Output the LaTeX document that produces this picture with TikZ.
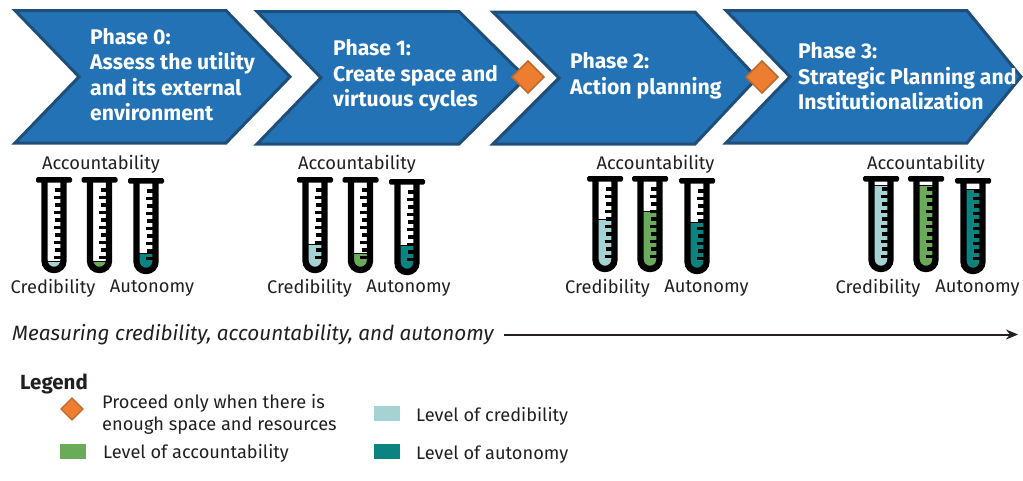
\documentclass[tikz,border=0pt]{standalone}
\usepackage{fontspec}
\setmainfont{Fira Sans}
\usetikzlibrary{arrows.meta}
\definecolor{phaseblue}{HTML}{2372B6}
\definecolor{phaseedge}{HTML}{1F4E79}
\definecolor{gateorange}{HTML}{ED7D31}
\definecolor{gateedge}{HTML}{C0692B}
\definecolor{credcolor}{HTML}{A5D3D3}
\definecolor{acctcolor}{HTML}{6AAB59}
\definecolor{autocolor}{HTML}{0B8380}
\definecolor{inkcolor}{HTML}{231F20}
\tikzset{
  phasetext/.style={anchor=west,align=left,text=white,inner sep=0pt,font=\fontsize{21.2}{25.5}\selectfont\bfseries},
  tubelabel/.style={inner sep=0pt,text=inkcolor,font=\fontsize{18.3}{21}\selectfont},
  legendtext/.style={anchor=west,align=left,inner sep=0pt,text=inkcolor,font=\fontsize{18.2}{22}\selectfont},
  gate/.style={draw=gateedge,fill=gateorange,line width=1.5pt,line join=miter},
  swatch/.style={minimum width=26pt,minimum height=15pt,inner sep=0pt,anchor=west}
}
% chevron: left x, right shoulder x, tip x, notch x, top y, bottom y
\newcommand{\chevron}[6]{
  \draw[line width=3pt,draw=phaseedge,fill=phaseblue,line join=miter]
    (#1,#5) -- (#2,#5) -- (#3,{(#5+#6)/2}) -- (#2,#6) -- (#1,#6) -- (#4,{(#5+#6)/2}) -- cycle;
}
% test tube: centre x, top y, level y, colour
\newcommand{\testtube}[4]{
  \fill[#4] ({#1-8},#3) [rounded corners=8pt] -- ({#1-8},{#2+92}) -- ({#1+8},{#2+92}) [sharp corners] -- ({#1+8},#3) -- cycle;
  \draw[line width=0.7pt] ({#1-7},#3) -- ({#1+7},#3);
  \foreach \tick [count=\n] in {13,20.5,...,81} {
    \ifodd\n \def\ticklen{6}\else\def\ticklen{7.5}\fi
    \draw[line width=3.2pt] ({#1+7-\ticklen},{#2+\tick}) -- ({#1+7},{#2+\tick});
  }
  \draw[line width=6.4pt,rounded corners=9.4pt] ({#1-9.5},{#2+3}) -- ({#1-9.5},{#2+93}) -- ({#1+9.5},{#2+93}) -- ({#1+9.5},{#2+3});
  \fill[rounded corners=1.5pt] ({#1-18},#2) rectangle ({#1+18},{#2+5.5});
}
\begin{document}
\begin{tikzpicture}[x=1pt,y=-1pt]
\useasboundingbox (0,0) rectangle (1023,480);

% Phases
\chevron{15}{226}{290}{79}{10.5}{143}
\chevron{257}{459}{526}{321}{11.5}{144}
\chevron{493}{695}{757}{559}{12}{144}
\chevron{726}{967}{1021}{790}{10.5}{143}
\node[phasetext] (phasezero) at (90,74.5) {Phase 0:\\Assess the utility\\and its external\\environment};
\node[phasetext] (phaseone) at (333,75.5) {Phase 1:\\Create space and\\virtuous cycles};
\node[phasetext] (phasetwo) at (570,76) {Phase 2:\\Action planning};
\node[phasetext] (phasethree) at (798,76.5) {Phase 3:\\Strategic Planning and\\Institutionalization};

% Gates between phases
\draw[gate] (528,61) -- (544,77) -- (528,93) -- (512,77) -- cycle;
\draw[gate] (762,61) -- (778,77) -- (762,93) -- (746,77) -- cycle;

% Tubes, phase 0
\testtube{54}{177}{261}{credcolor}
\testtube{99.5}{177}{261}{acctcolor}
\testtube{146}{178}{253}{autocolor}
\node[tubelabel] (acctzero) at (101,164.5) {Accountability};
\node[tubelabel] (credzero) at (53,288.5) {Credibility};
\node[tubelabel] (autozero) at (152,288.5) {Autonomy};

% Tubes, phase 1
\testtube{315}{177}{244}{credcolor}
\testtube{360.5}{177}{253}{acctcolor}
\testtube{407}{179}{245}{autocolor}
\node[tubelabel] (acctone) at (357,164.5) {Accountability};
\node[tubelabel] (credone) at (309.5,288.5) {Credibility};
\node[tubelabel] (autoone) at (408.5,288.5) {Autonomy};

% Tubes, phase 2
\testtube{605}{176}{219}{credcolor}
\testtube{650}{176}{211}{acctcolor}
\testtube{697}{178}{222}{autocolor}
\node[tubelabel] (accttwo) at (655.5,164.5) {Accountability};
\node[tubelabel] (credtwo) at (607.5,288.5) {Credibility};
\node[tubelabel] (autotwo) at (706.5,288.5) {Autonomy};

% Tubes, phase 3
\testtube{881}{176}{185}{credcolor}
\testtube{926}{176}{185}{acctcolor}
\testtube{973}{178}{189}{autocolor}
\node[tubelabel] (acctthree) at (926,164.5) {Accountability};
\node[tubelabel] (credthree) at (878,288.5) {Credibility};
\node[tubelabel] (autothree) at (977.5,288.5) {Autonomy};

% Measuring arrow
\node[anchor=west,inner sep=0pt,text=inkcolor,font=\fontsize{20.7}{24}\selectfont\itshape] (measure) at (12,334.5) {Measuring credibility, accountability, and autonomy};
\coordinate (arrowend) at (1018,334.5);
\draw[-{Stealth[length=12pt,width=10pt]},line width=2pt,draw=inkcolor] (504,334.5) -- (arrowend);

% Legend
\node[anchor=west,inner sep=0pt,text=inkcolor,font=\fontsize{20.5}{24}\selectfont\bfseries] (legend) at (20,383.5) {Legend};
\draw[gate,line width=1.2pt] (72,398) -- (83,409) -- (72,420) -- (61,409) -- cycle;
\node[legendtext] (legendgate) at (102,414.5) {Proceed only when there is\\enough space and resources};
\node[swatch,fill=acctcolor] (swatchacct) at (60,451.5) {};
\node[legendtext] (legendacct) at (103,453) {Level of accountability};
\node[swatch,fill=credcolor] (swatchcred) at (374,413.5) {};
\node[legendtext] (legendcred) at (416,416) {Level of credibility};
\node[swatch,fill=autocolor] (swatchauto) at (374,451.5) {};
\node[legendtext] (legendauto) at (416,455) {Level of autonomy};
\end{tikzpicture}
\end{document}
